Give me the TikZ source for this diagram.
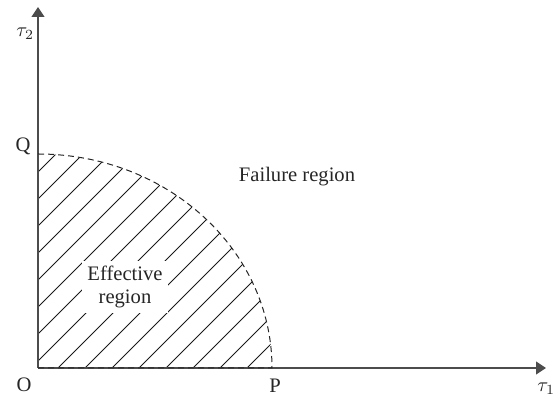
\documentclass[tikz,border=0pt]{standalone}
\usepackage{fontspec}
\setmainfont{Liberation Serif}
\usetikzlibrary{arrows.meta}
\begin{document}
\begin{tikzpicture}[x=0.5pt,y=0.5pt,
  lbl/.style={font=\fontsize{10.3}{11.5}\selectfont, text=black!85, inner sep=0pt},
  axisline/.style={draw=black!70, line width=0.6pt, -{Triangle[length=5pt,width=6.5pt]}},
  hatchline/.style={draw=black!90, line width=0.5pt},
  boundline/.style={draw=black!85, dash pattern=on 3pt off 2pt, line width=0.5pt}]
\useasboundingbox (0,0) rectangle (555,400);
\coordinate (O) at (38,32);
\coordinate (P) at (272,32);
\coordinate (Q) at (38,246);
\coordinate (ytip) at (38,393);
\coordinate (xtip) at (546,32);
% hatching
\begin{scope}
  \clip (O) -- (P) arc[start angle=0, end angle=90, x radius=234, y radius=214] -- cycle;
  \foreach \k in {-8,...,8} {
    \draw[hatchline] (58-27*\k,32) -- ++(300,300);
  }
\end{scope}
% axes
\draw[axisline] (O) -- (ytip);
\draw[axisline] (O) -- (xtip);
% boundary
\draw[boundline] (O) -- (P) arc[start angle=0, end angle=90, x radius=234, y radius=214];
% labels
\node[lbl, fill=white, align=center, inner sep=2.5pt] (eff) at (125,113) {Effective\\region};
\node[lbl, anchor=base] (fail) at (297,218) {Failure region};
\node[lbl, anchor=base] (q) at (23,248) {Q};
\node[lbl, anchor=base] (o) at (24,8) {O};
\node[lbl, anchor=base] (p) at (275,7) {P};
\node[lbl, anchor=base west] (t1) at (537,8) {$\tau_1$};
\node[lbl, anchor=base west] (t2) at (16,363) {$\tau_2$};
\end{tikzpicture}
\end{document}
